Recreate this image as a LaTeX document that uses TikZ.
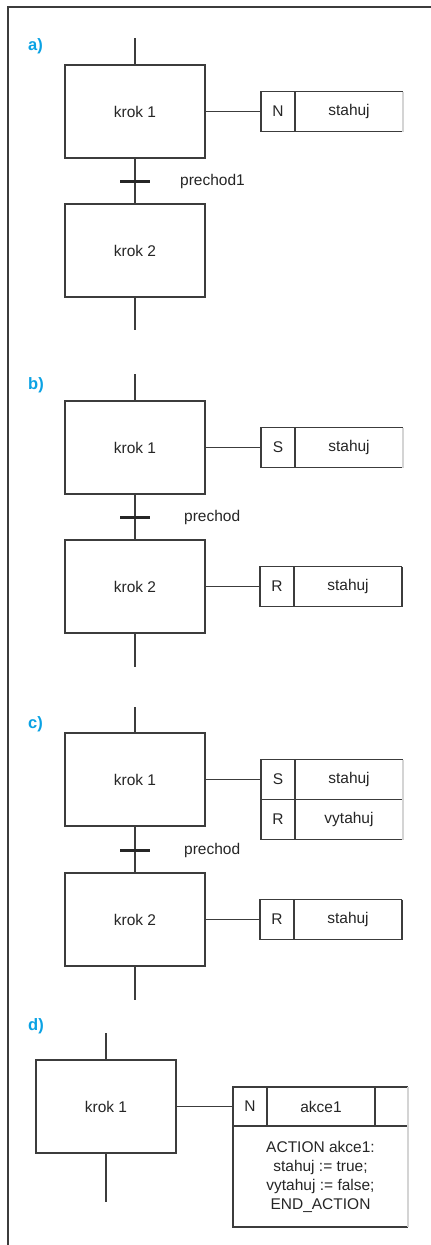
\documentclass[tikz,border=0pt]{standalone}
\usepackage{fontspec}
\setmainfont{Liberation Sans}
\definecolor{lc}{HTML}{3C3C3C}
\definecolor{faint}{HTML}{D4D4D4}
\definecolor{txt}{HTML}{262626}
\definecolor{tagblue}{HTML}{0AA2E4}
\newcommand{\lbl}{\fontsize{15.5}{19}\selectfont\color{txt}}
\begin{document}
\begin{tikzpicture}[x=1pt,y=-1pt,
  line/.style={draw=lc, line width=1.3pt},
  faintline/.style={draw=faint, line width=1.3pt},
  stepbox/.style={line, minimum width=140pt, minimum height=93pt, inner sep=0pt, outer sep=0pt, font=\lbl},
  qual/.style={line, minimum width=34pt, minimum height=40pt, inner sep=0pt, outer sep=0pt, font=\lbl},
  actname/.style={minimum width=108pt, minimum height=40pt, inner sep=0pt, outer sep=0pt, font=\lbl},
  tbar/.style={draw=black!85, line width=3pt},
  tlabel/.style={anchor=west, inner sep=0pt, font=\lbl},
  tag/.style={anchor=west, inner sep=0pt, font=\fontsize{16.5}{19}\selectfont\bfseries\color{tagblue}}
]
\useasboundingbox (0,0) rectangle (431,1245);
\fill[white] (0,0) rectangle (431,1245);
% outer frame
\draw[line] (8,1245) -- (8,7) -- (431,7);

% ---------- a) ----------
\node[tag] (ta) at (28,46) {a)};
\coordinate (a0) at (135,38);
\node[stepbox] (a1) at (135,111.5) {krok 1};
\node[stepbox] (a2) at (135,250.5) {krok 2};
\coordinate (a3) at (135,330);
\coordinate (at) at (135,181);
\draw[line] (a0) -- (a1.north);
\draw[line] (a1.south) -- (a2.north);
\draw[line] (a2.south) -- (a3);
\draw[tbar] ([xshift=-15pt]at) -- ([xshift=15pt]at);
\node[tlabel] (atl) at (180,181) {prechod1};
\node[qual] (aq) at (278,111.5) {N};
\node[actname] (an) at (349,111.5) {stahuj};
\draw[line] (a1.east) -- (aq.west);
\draw[line] (aq.north east) -- (an.north east);
\draw[line] (aq.south east) -- (an.south east);
\draw[faintline] (an.north east) -- (an.south east);

% ---------- b) ----------
\node[tag] (tb) at (28,385) {b)};
\coordinate (b0) at (135,374);
\node[stepbox] (b1) at (135,447.5) {krok 1};
\node[stepbox] (b2) at (135,586.5) {krok 2};
\coordinate (b3) at (135,667);
\coordinate (bt) at (135,517);
\draw[line] (b0) -- (b1.north);
\draw[line] (b1.south) -- (b2.north);
\draw[line] (b2.south) -- (b3);
\draw[tbar] ([xshift=-15pt]bt) -- ([xshift=15pt]bt);
\node[tlabel] (btl) at (184,517) {prechod};
\node[qual] (bq1) at (278,447.5) {S};
\node[actname] (bn1) at (349,447.5) {stahuj};
\draw[line] (b1.east) -- (bq1.west);
\draw[line] (bq1.north east) -- (bn1.north east);
\draw[line] (bq1.south east) -- (bn1.south east);
\draw[faintline] (bn1.north east) -- (bn1.south east);
\node[qual] (bq2) at (277,586.5) {R};
\node[actname] (bn2) at (348,586.5) {stahuj};
\draw[line] (b2.east) -- (bq2.west);
\draw[line] (bq2.north east) -- (bn2.north east);
\draw[line] (bq2.south east) -- (bn2.south east);
\draw[draw=lc, line width=2pt] (bn2.north east) -- (bn2.south east);

% ---------- c) ----------
\node[tag] (tc) at (28,724) {c)};
\coordinate (c0) at (135,707);
\node[stepbox] (c1) at (135,779.5) {krok 1};
\node[stepbox] (c2) at (135,919.5) {krok 2};
\coordinate (c3) at (135,1000);
\coordinate (ct) at (135,850);
\draw[line] (c0) -- (c1.north);
\draw[line] (c1.south) -- (c2.north);
\draw[line] (c2.south) -- (c3);
\draw[tbar] ([xshift=-15pt]ct) -- ([xshift=15pt]ct);
\node[tlabel] (ctl) at (184,850) {prechod};
\node[qual] (cq1) at (278,779.5) {S};
\node[actname] (cn1) at (349,779.5) {stahuj};
\node[qual] (cq2) at (278,819.5) {R};
\node[actname] (cn2) at (349,819.5) {vytahuj};
\draw[line] (c1.east) -- (cq1.west);
\draw[line] (cq1.north east) -- (cn1.north east);
\draw[line] (cq1.south east) -- (cn1.south east);
\draw[line] (cq2.south east) -- (cn2.south east);
\draw[faintline] (cn1.north east) -- (cn2.south east);
\node[qual] (cq3) at (277,919.5) {R};
\node[actname] (cn3) at (348,919.5) {stahuj};
\draw[line] (c2.east) -- (cq3.west);
\draw[line] (cq3.north east) -- (cn3.north east);
\draw[line] (cq3.south east) -- (cn3.south east);
\draw[draw=lc, line width=2pt] (cn3.north east) -- (cn3.south east);

% ---------- d) ----------
\node[tag] (td) at (28,1026) {d)};
\coordinate (d0) at (106,1033);
\node[stepbox] (d1) at (106,1106.5) {krok 1};
\coordinate (d3) at (106,1202);
\draw[line] (d0) -- (d1.north);
\draw[line] (d1.south) -- (d3);
\node[qual, minimum height=39pt] (dq) at (250,1106.5) {N};
\node[actname, minimum height=39pt] (dn) at (321,1106.5) {akce1};
\node[minimum width=33pt, minimum height=39pt, inner sep=0pt, outer sep=0pt] (dx) at (391.5,1106.5) {};
\node[minimum width=175pt, minimum height=101pt, inner sep=0pt, outer sep=0pt, align=center,
      font=\fontsize{15.5}{19}\selectfont\color{txt}] (db) at (320.5,1176.5)
  {ACTION akce1:\\ stahuj := true;\\ vytahuj := false;\\ END\_ACTION};
\draw[line] (d1.east) -- (dq.west);
\draw[line] (dq.north east) -- (dx.north east);
\draw[line] (dn.north east) -- (dn.south east);
\draw[line] (dq.south east) -- (dx.south east);
\draw[line] (dq.south west) -- (db.south west) -- (db.south east);
\draw[faintline] (dx.north east) -- (db.south east);
\end{tikzpicture}
\end{document}
